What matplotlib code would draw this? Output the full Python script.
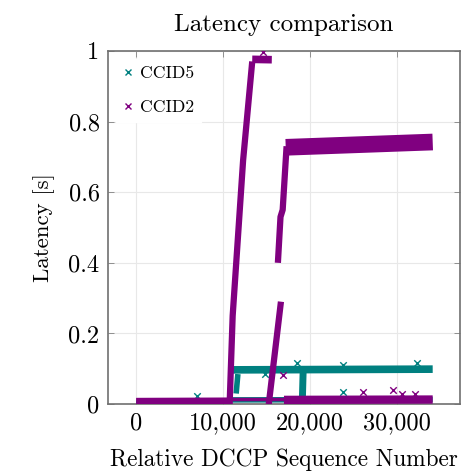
import matplotlib
matplotlib.use("Agg")
import matplotlib.pyplot as plt
from matplotlib.lines import Line2D

plt.rcParams["font.family"] = ["cmr10", "DejaVu Serif"]
plt.rcParams["mathtext.fontset"] = "cm"
plt.rcParams["axes.unicode_minus"] = False

# tick positions and labels
xTicks = [0, 10000, 20000, 30000]
xTickLabels = ["0", "10,000", "20,000", "30,000"]
yTicks = [0, 0.2, 0.4, 0.6, 0.8, 1.0]
yTickLabels = ["0", "0.2", "0.4", "0.6", "0.8", "1"]

# CCID5 - dense bands (x = sequence number, y = latency in s)
ccid5_bottom_x = [0, 10800]
ccid5_bottom_y = [0.005, 0.006]
ccid5_low_x = [11000, 34100]
ccid5_low_y = [0.012, 0.013]
ccid5_high_x = [11100, 34100]
ccid5_high_y = [0.097, 0.099]
ccid5_jump1_x = [11500, 11700]
ccid5_jump1_y = [0.03, 0.085]
ccid5_jump2_x = [19100, 19200]
ccid5_jump2_y = [0.0, 0.09]
# single CCID5 outliers
ccid5_out_x = [7000, 14800, 18500, 23800, 23800, 32300]
ccid5_out_y = [0.022, 0.085, 0.116, 0.11, 0.034, 0.117]

# CCID2 - dense bands
ccid2_bottom_x = [0, 10800]
ccid2_bottom_y = [0.008, 0.009]
ccid2_rise1_x = [10750, 11100, 12300, 13350]
ccid2_rise1_y = [0.0, 0.25, 0.69, 0.97]
ccid2_top_x = [13350, 15600]
ccid2_top_y = [0.976, 0.975]
ccid2_mid_x = [11000, 17000]
ccid2_mid_y = [0.014, 0.014]
ccid2_rise2a_x = [15250, 16650]
ccid2_rise2a_y = [0.0, 0.29]
ccid2_rise2b_x = [16300, 16600, 16850, 17300]
ccid2_rise2b_y = [0.40, 0.53, 0.55, 0.73]
ccid2_plateau_x = [17200, 34100]
ccid2_plateau_y = [0.727, 0.742]
ccid2_low_x = [17000, 34100]
ccid2_low_y = [0.012, 0.013]
# single CCID2 outliers
ccid2_out_x = [14600, 16900, 26100, 29500, 30600, 32100]
ccid2_out_y = [0.997, 0.082, 0.035, 0.04, 0.03, 0.03]

teal = "#008080"
purple = "#800080"


def drawBand(ax, xs, ys, color, width):
    ax.plot(xs, ys, color=color, linewidth=width, solid_capstyle="butt",
            solid_joinstyle="round", zorder=3)


fig = plt.figure(figsize=(4.69, 4.71), dpi=100)
ax = fig.add_axes([0.230, 0.142, 0.751, 0.750])

# CCID5 first (drawn below CCID2)
drawBand(ax, ccid5_bottom_x, ccid5_bottom_y, teal, 2)
drawBand(ax, ccid5_low_x, ccid5_low_y, teal, 4)
drawBand(ax, ccid5_high_x, ccid5_high_y, teal, 5.5)
drawBand(ax, ccid5_jump1_x, ccid5_jump1_y, teal, 4)
drawBand(ax, ccid5_jump2_x, ccid5_jump2_y, teal, 5)
ax.scatter(ccid5_out_x, ccid5_out_y, marker="x", s=22, color=teal, linewidths=1, zorder=3)

drawBand(ax, ccid2_bottom_x, ccid2_bottom_y, purple, 5)
drawBand(ax, ccid2_rise1_x, ccid2_rise1_y, purple, 4.5)
drawBand(ax, ccid2_top_x, ccid2_top_y, purple, 5.5)
drawBand(ax, ccid2_mid_x, ccid2_mid_y, purple, 2.5)
drawBand(ax, ccid2_rise2a_x, ccid2_rise2a_y, purple, 4.5)
drawBand(ax, ccid2_rise2b_x, ccid2_rise2b_y, purple, 4.5)
drawBand(ax, ccid2_plateau_x, ccid2_plateau_y, purple, 12)
drawBand(ax, ccid2_low_x, ccid2_low_y, purple, 6)
ax.scatter(ccid2_out_x, ccid2_out_y, marker="x", s=22, color=purple, linewidths=1, zorder=3)

ax.set_xlim(-3250, 37250)
ax.set_ylim(0, 1)
ax.set_xticks(xTicks)
ax.set_xticklabels(xTickLabels)
ax.set_yticks(yTicks)
ax.set_yticklabels(yTickLabels)
ax.tick_params(direction="in", length=4, width=0.6, color="#808080",
               top=True, right=True, labelsize=17.5, pad=6)
ax.grid(True, color="#e8e8e8", linewidth=0.8, zorder=0)
ax.set_axisbelow(True)
for spine in ax.spines.values():
    spine.set_color("#707070")
    spine.set_linewidth(1.2)

ax.set_title("Latency comparison", fontsize=18, pad=14)
ax.set_xlabel("Relative DCCP Sequence Number", fontsize=16.8, labelpad=10)
ax.set_ylabel("Latency [s]", fontsize=16.5, labelpad=10)

handles = [
    Line2D([], [], linestyle="none", marker="x", markersize=4, color=teal, label="CCID5"),
    Line2D([], [], linestyle="none", marker="x", markersize=4, color=purple, label="CCID2"),
]
leg = ax.legend(handles=handles, loc="upper left", fontsize=12.7, frameon=True,
                handlelength=0.6, handletextpad=0.35, labelspacing=1.05,
                borderaxespad=0.45, fancybox=False)
leg.get_frame().set_edgecolor("white")
leg.get_frame().set_alpha(1)
leg.set_zorder(5)

fig.savefig("out.png", dpi=100)
